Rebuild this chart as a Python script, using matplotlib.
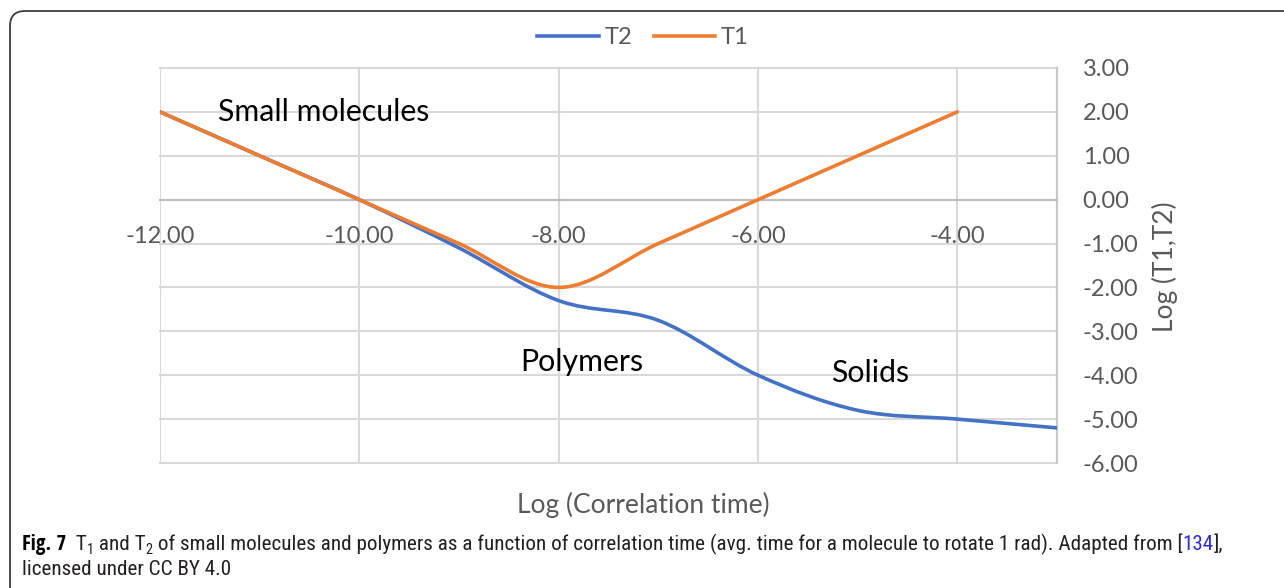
import os
import matplotlib
matplotlib.use("Agg")
import matplotlib.pyplot as plt
import numpy as np
from matplotlib import font_manager
from matplotlib.font_manager import FontProperties
from matplotlib.path import Path
from matplotlib.patches import PathPatch, FancyBboxPatch
from matplotlib.lines import Line2D
from matplotlib.transforms import IdentityTransform

# ---------------- data ----------------
t1_x = [-12, -11, -10, -9, -8, -7, -6, -5, -4]
t1_y = [2.0, 1.0, 0.0, -1.0, -2.0, -1.0, 0.0, 1.0, 2.0]
t2_x = [-12, -11, -10, -9, -8, -7, -6, -5, -4, -3]
t2_y = [2.0, 1.0, 0.0, -1.1, -2.3, -2.75, -4.0, -4.8, -5.0, -5.2]
series_names = ["T2", "T1"]
x_ticks = [-12, -10, -8, -6, -4]
y_ticks = [3, 2, 1, 0, -1, -2, -3, -4, -5, -6]
region_labels = ["Small molecules", "Polymers", "Solids"]
region_x = [-10.36, -7.77, -4.88]
region_y = [2.0, -3.71, -3.96]
x_title = "Log (Correlation time)"
y_title = "Log (T1,T2)"

plt.rcParams['font.family'] = ['Lato', 'DejaVu Sans']


def pick_condensed(bold=False):
    """Find an installed condensed sans face for the caption (falls back to Roboto)."""
    best = None
    for f in font_manager.fontManager.ttflist:
        fn = os.path.basename(f.fname).lower()
        if not any(k in f.name for k in ("Noto Sans", "Open Sans", "Roboto", "Liberation Sans", "Lato")):
            continue
        if any(k in f.name for k in ("CJK", "Mono", "Display")) or f.style != "normal":
            continue
        narrow = ("condensed" in fn or "narrow" in fn or
                  f.stretch in ("condensed", "semi-condensed", "extra-condensed"))
        if not narrow:
            continue
        w = f.weight if isinstance(f.weight, int) else (700 if f.weight == "bold" else 400)
        if bold and w < 600:
            continue
        if not bold and w != 400:
            continue
        score = 0
        if "semicondensed" in fn or f.stretch == "semi-condensed":
            score = 1
        elif "extracondensed" in fn or f.stretch == "extra-condensed":
            score = 2
        if best is None or score < best[0]:
            best = (score, f.fname)
    return best[1] if best else None


_reg_path = pick_condensed(False)
_bold_path = pick_condensed(True)

W, H = 1284, 588
fig = plt.figure(figsize=(W / 100, H / 100), dpi=100)
fig.patch.set_facecolor("white")

# axes placement (pixels)
L, R, T, B = 160, 1057, 68, 463
ax = fig.add_axes([L / W, (H - B) / H, (R - L) / W, (B - T) / H])
ax.set_xlim(-12, -3)
ax.set_ylim(-6, 3)

BLUE = "#4472C4"
ORANGE = "#ED7D31"
GRID = "#d9d9d9"
TXT = "#595959"


def smooth_path(xs, ys):
    pts = np.column_stack([xs, ys]).astype(float)
    n = len(pts)
    verts = [pts[0]]
    codes = [Path.MOVETO]
    for i in range(n - 1):
        p0 = pts[i - 1] if i > 0 else pts[i]
        p1 = pts[i]
        p2 = pts[i + 1]
        p3 = pts[i + 2] if i + 2 < n else pts[i + 1]
        c1 = p1 + (p2 - p0) / 6.0
        c2 = p2 - (p3 - p1) / 6.0
        verts += [c1, c2, p2]
        codes += [Path.CURVE4] * 3
    return Path(verts, codes)


ax.add_patch(PathPatch(smooth_path(t2_x, t2_y), facecolor="none", edgecolor=BLUE,
                       lw=2.6, capstyle="round", joinstyle="round", zorder=3))
ax.add_patch(PathPatch(smooth_path(t1_x, t1_y), facecolor="none", edgecolor=ORANGE,
                       lw=2.6, capstyle="round", joinstyle="round", zorder=4))

ax.set_xticks(x_ticks)
ax.set_xticklabels([f"{v:.2f}" for v in x_ticks])
ax.set_yticks(y_ticks)
ax.set_yticklabels([f"{v:.2f}" for v in y_ticks])
ax.grid(True, color=GRID, lw=1.5, zorder=0)
ax.set_axisbelow(True)
for gl in ax.get_xgridlines() + ax.get_ygridlines():
    gl.set_clip_on(False)

for s in ["top", "left"]:
    ax.spines[s].set_visible(False)
ax.spines["bottom"].set_position(("data", 0))
ax.spines["bottom"].set_color("#bfbfbf")
ax.spines["bottom"].set_linewidth(1.6)
ax.spines["right"].set_color("#c8c8c8")
ax.spines["right"].set_linewidth(1.6)
ax.yaxis.tick_right()
ax.tick_params(axis="x", length=0, pad=19, labelsize=17, labelcolor=TXT)
ax.tick_params(axis="y", length=0, pad=18.5, labelsize=17, labelcolor=TXT)

for s, x, y in zip(region_labels, region_x, region_y):
    ax.text(x, y, s, ha="center", va="center", fontsize=21.8, color="black", zorder=5)

# legend
handles = [Line2D([], [], color=BLUE, lw=2.6), Line2D([], [], color=ORANGE, lw=2.6)]
fig.legend(handles, series_names, loc="center", bbox_to_anchor=(643 / W, 1 - 38 / H),
           ncol=2, frameon=False, handlelength=2.6, handletextpad=0.25,
           columnspacing=0.9, fontsize=17, labelcolor=TXT)

# axis titles
fig.text(643 / W, 1 - 505 / H, x_title, ha="center", va="center", fontsize=19, color=TXT)
fig.text(1165 / W, 1 - 267 / H, y_title, ha="center", va="center", rotation=90,
         fontsize=19, color=TXT)

# frame with rounded corner (clipped at right and bottom)
box = FancyBboxPatch((10, -60), 1400, H - 11 + 60, boxstyle="round,pad=0,rounding_size=15",
                     transform=IdentityTransform(), fill=False, ec="#3c3c3c", lw=1.3)
fig.add_artist(box)

# caption
CAP = "#231f20"
line1 = [("Fig. 7", "black", True, 0),
         ("  T", CAP, False, 0), ("1", CAP, False, 1),
         (" and T", CAP, False, 0), ("2", CAP, False, 1),
         (" of small molecules and polymers as a function of correlation time "
          "(avg. time for a molecule to rotate 1 rad). Adapted from [", CAP, False, 0),
         ("134", "#2b2bd9", False, 0), ("],", CAP, False, 0)]
line2 = [("licensed under CC BY 4.0", CAP, False, 0)]

renderer = fig.canvas.get_renderer()


def make_props(bold, size):
    if bold:
        if _bold_path:
            return FontProperties(fname=_bold_path, size=size)
        if _reg_path:
            return FontProperties(fname=_reg_path, size=size, weight="bold")
        return FontProperties(family="Roboto", weight="bold", size=size)
    if _reg_path:
        return FontProperties(fname=_reg_path, size=size)
    return FontProperties(family="Roboto", size=size)


def layout(pieces, x0, ybase, fs):
    arts = []
    x = x0
    for s, color, bold, sub in pieces:
        size = fs * 0.68 if sub else fs
        yy = ybase + (4 if sub else 0)
        t = fig.text(x, H - yy, s, transform=IdentityTransform(), ha="left",
                     va="baseline", color=color, fontproperties=make_props(bold, size))
        arts.append(t)
        x += t.get_window_extent(renderer).width
    return arts, x - x0


fs = 13.0
arts, w = layout(line1, 22, 550, fs)
for a in arts:
    a.remove()
fs = min(fs * 1222.0 / w, 15.2)
layout(line1, 22, 550, fs)
layout(line2, 22, 575, fs)

fig.savefig("out.png", dpi=100)
